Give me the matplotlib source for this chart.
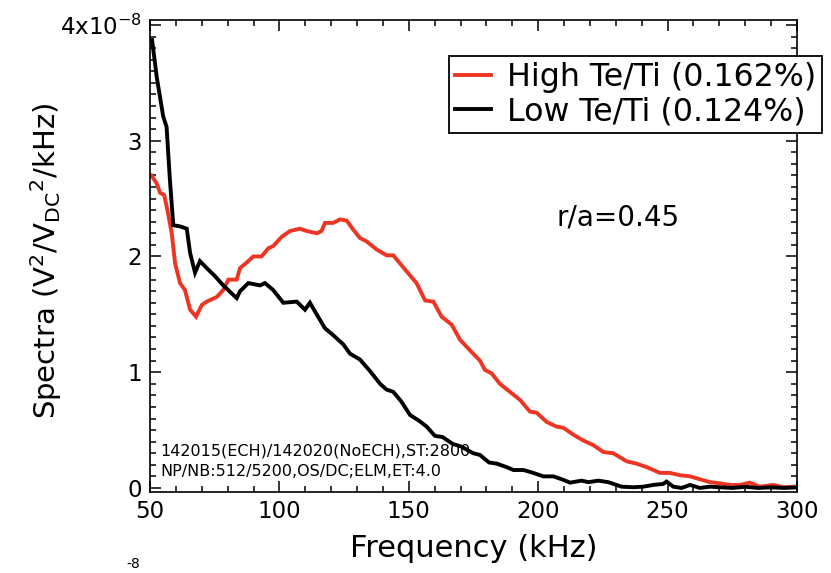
import matplotlib
matplotlib.use("Agg")
import matplotlib.pyplot as plt
from matplotlib.ticker import MultipleLocator, FixedLocator, FixedFormatter

# ---- data (spectra in units of 1e-8 V^2/V_DC^2/kHz) ----
high_freq = [50.6, 52.6, 53.9, 55.5, 57.0, 58.4, 59.7, 61.6, 63.5, 65.5, 67.8, 70.0, 71.9,
             75.8, 78.3, 80.3, 83.5, 84.8, 87.5, 89.9, 93.1, 95.7, 97.6, 100.9, 104.1, 108.0,
             110.5, 114.4, 116.3, 117.6, 120.8, 123.4, 126.0, 128.6, 131.1, 133.7, 137.6,
             141.4, 144.0, 146.6, 149.2, 153.0, 156.3, 159.5, 162.7, 166.6, 169.8, 173.6,
             177.5, 179.4, 182.0, 185.2, 189.1, 193.0, 196.8, 199.4, 203.3, 207.1, 209.7,
             213.6, 217.4, 221.3, 225.2, 229.0, 234.2, 238.0, 241.9, 247.1, 250.9, 254.8,
             258.7, 262.5, 266.4, 270.2, 274.1, 278.0, 281.8, 285.7, 290.8, 294.7, 299.2]
high_vals = [2.70, 2.63, 2.55, 2.53, 2.37, 2.20, 1.94, 1.77, 1.71, 1.54, 1.48, 1.58, 1.61,
             1.65, 1.71, 1.80, 1.80, 1.90, 1.95, 2.00, 2.00, 2.07, 2.09, 2.17, 2.22, 2.24,
             2.22, 2.20, 2.22, 2.29, 2.29, 2.32, 2.31, 2.23, 2.16, 2.13, 2.06,
             2.01, 2.01, 1.94, 1.87, 1.77, 1.62, 1.61, 1.48, 1.41, 1.28, 1.19,
             1.10, 1.02, 0.99, 0.90, 0.83, 0.76, 0.66, 0.65, 0.57, 0.53, 0.52,
             0.46, 0.41, 0.37, 0.31, 0.30, 0.23, 0.21, 0.18, 0.13, 0.13, 0.11,
             0.10, 0.075, 0.05, 0.04, 0.026, 0.026, 0.046, 0.011, 0.026, 0.006, 0.011]

low_freq = [50.8, 52.6, 55.1, 56.4, 57.7, 59.0, 61.6, 64.2, 65.5, 67.4, 69.3, 71.9, 75.1,
            78.3, 83.5, 84.8, 88.0, 92.5, 94.4, 97.6, 101.5, 106.7, 109.9, 111.8, 114.4,
            117.6, 120.8, 124.7, 127.3, 131.1, 135.0, 138.9, 141.4, 144.0, 147.0, 150.5,
            154.0, 156.9, 160.1, 163.0, 167.0, 170.0, 174.9, 177.5, 181.0, 184.0, 187.8,
            190.4, 194.3, 198.1, 202.0, 205.9, 209.7, 212.3, 216.8, 219.4, 223.2, 227.1,
            232.2, 236.7, 240.6, 244.5, 248.3, 249.6, 252.2, 255.4, 258.7, 262.5, 266.4,
            270.2, 275.0, 280.0, 285.0, 290.0, 295.0, 300.0]
low_vals = [3.87, 3.55, 3.21, 3.12, 2.66, 2.27, 2.26, 2.24, 2.03, 1.86, 1.96, 1.90, 1.83,
            1.75, 1.64, 1.70, 1.77, 1.75, 1.77, 1.71, 1.60, 1.61, 1.54, 1.60, 1.50,
            1.38, 1.32, 1.24, 1.16, 1.11, 1.01, 0.90, 0.85, 0.83, 0.75, 0.63,
            0.58, 0.53, 0.45, 0.44, 0.38, 0.36, 0.30, 0.285, 0.22, 0.21, 0.18,
            0.155, 0.155, 0.13, 0.10, 0.10, 0.07, 0.046, 0.063, 0.05, 0.063, 0.05,
            0.011, 0.006, 0.011, 0.026, 0.035, 0.055, 0.011, 0.0, 0.026, 0.0, 0.011,
            0.006, 0.0, 0.01, 0.0, 0.005, 0.0, 0.005]

series_labels = ["High Te/Ti (0.162%)", "Low Te/Ti (0.124%)"]
x_ticks = [50, 100, 150, 200, 250, 300]
y_ticks = [0, 1, 2, 3, 4]
y_ticklabels = ["0", "1", "2", "3", "4x10$^{-8}$"]

W, H = 831, 573
fig = plt.figure(figsize=(W / 100, H / 100), dpi=100)
L, R, B, T = 150, 797, 492, 20
ax = fig.add_axes([L / W, 1 - B / H, (R - L) / W, (B - T) / H])

ax.plot(high_freq, high_vals, color="#ee3524", lw=2.8, label=series_labels[0],
        solid_joinstyle="miter")
ax.plot(low_freq, low_vals, color="black", lw=2.8, label=series_labels[1],
        solid_joinstyle="miter")

ax.set_xlim(50, 300)
ax.set_ylim(-0.035, 4.043)
ax.xaxis.set_major_locator(FixedLocator(x_ticks))
ax.xaxis.set_minor_locator(MultipleLocator(10))
ax.yaxis.set_major_locator(FixedLocator(y_ticks))
ax.yaxis.set_major_formatter(FixedFormatter(y_ticklabels))
ax.yaxis.set_minor_locator(MultipleLocator(0.1))
ax.tick_params(which="both", direction="in", top=True, right=True, width=1.1,
               labelsize=16.5, pad=6)
ax.tick_params(which="major", length=8)
ax.tick_params(which="minor", length=4.5)
for s in ax.spines.values():
    s.set_linewidth(1.2)

ax.set_xlabel("Frequency (kHz)", fontsize=22, labelpad=8)
ax.set_ylabel(r"Spectra (V$^2$/V$_{\mathrm{DC}}$$^2$/kHz)", fontsize=21)
ax.yaxis.set_label_coords((64 - L) / (R - L), 0.49)

leg = ax.legend(loc="upper right", bbox_to_anchor=(822 / W, 1 - 56 / H),
                bbox_transform=fig.transFigure, fontsize=22.8, frameon=True,
                fancybox=False, edgecolor="black", framealpha=1, borderaxespad=0,
                handlelength=1.15, handletextpad=0.5, labelspacing=0.12,
                borderpad=0.18)
leg.get_frame().set_linewidth(1.3)

fig.text(618 / W, 1 - 218 / H, "r/a=0.45", fontsize=20, ha="center", va="center")
fig.text(160 / W, 1 - 451 / H, "142015(ECH)/142020(NoECH),ST:2800", fontsize=11.5,
         ha="left", va="center")
fig.text(160 / W, 1 - 472 / H, "NP/NB:512/5200,OS/DC;ELM,ET:4.0", fontsize=11.5,
         ha="left", va="center")
fig.text(126 / W, 1 - 571 / H, "-8", fontsize=10, ha="left", va="bottom")

fig.savefig("out.png", dpi=100)
